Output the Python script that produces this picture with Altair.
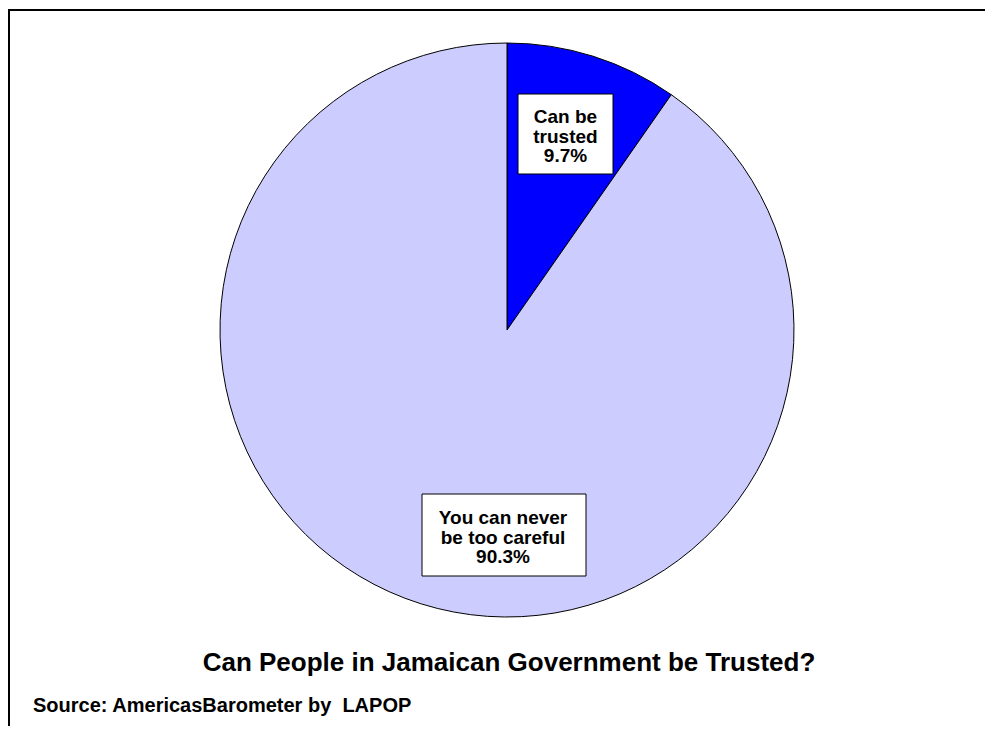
import altair as alt
import pandas as pd

# ---- data ----
categories = ["Can be trusted", "You can never be too careful"]
label_lines = ["Can be\ntrusted", "You can never\nbe too careful"]
values = [9.7, 90.3]
colors = ["#0000FF", "#CCCCFF"]
title_text = "Can People in Jamaican Government be Trusted?"
source_text = "Source: AmericasBarometer by \u00a0LAPOP"

df = pd.DataFrame({
    "category": categories,
    "value": values,
    "order": list(range(len(categories))),
    "label": [f"{l}\n{v}%" for l, v in zip(label_lines, values)],
})

W, H = 977, 718
FONT = "Liberation Sans"
CX, CY, R = 499, 322, 287

pie = alt.Chart(df).mark_arc(radius=R, stroke="black", strokeWidth=1).encode(
    theta=alt.Theta("value:Q", stack=True),
    order=alt.Order("order:Q"),
    color=alt.Color("category:N", scale=alt.Scale(domain=categories, range=colors), legend=None),
    x=alt.value(CX), y=alt.value(CY),
)

# label layout (positions for annotation boxes; text y = first line)
layout = [
    {"box": (510, 605, 86, 166), "text": (557.5, 109)},
    {"box": (414, 578, 486, 568), "text": (495, 510)},
]

layers = [pie]
for cat, lay in zip(categories, layout):
    x0, x1, y0, y1 = lay["box"]
    tx, ty = lay["text"]
    base = alt.Chart(df).transform_filter(alt.datum.category == cat)
    layers.append(base.mark_rect(fill="white", stroke="black", strokeWidth=1).encode(
        x=alt.value(x0), x2=alt.value(x1), y=alt.value(y0), y2=alt.value(y1)))
    layers.append(base.mark_text(font=FONT, fontSize=19, fontWeight="bold", align="center",
                                 baseline="middle", lineBreak="\n", lineHeight=19.5,
                                 color="black").encode(
        text="label:N", x=alt.value(tx), y=alt.value(ty)))

one = pd.DataFrame({"title": [title_text], "source": [source_text]})
layers.append(alt.Chart(one).mark_text(font=FONT, fontSize=26, fontWeight="bold", align="center",
                                        baseline="alphabetic", color="black").encode(
    text="title:N", x=alt.value(501), y=alt.value(663)))
layers.append(alt.Chart(one).mark_text(font=FONT, fontSize=20, fontWeight="bold", align="left",
                                        baseline="alphabetic", color="black").encode(
    text="source:N", x=alt.value(25), y=alt.value(704)))

# frame lines (top and left)
layers.append(alt.Chart(one).mark_rule(color="black", strokeWidth=2).encode(
    x=alt.value(0), x2=alt.value(W), y=alt.value(2)))
layers.append(alt.Chart(one).mark_rule(color="black", strokeWidth=2).encode(
    x=alt.value(1), y=alt.value(1), y2=alt.value(H)))

chart = alt.layer(*layers).properties(
    width=W, height=H, autosize="none", padding=0,
    background="white",
).configure_view(stroke=None)

chart.save("out.html", embed_options={"renderer": "svg", "actions": False})
